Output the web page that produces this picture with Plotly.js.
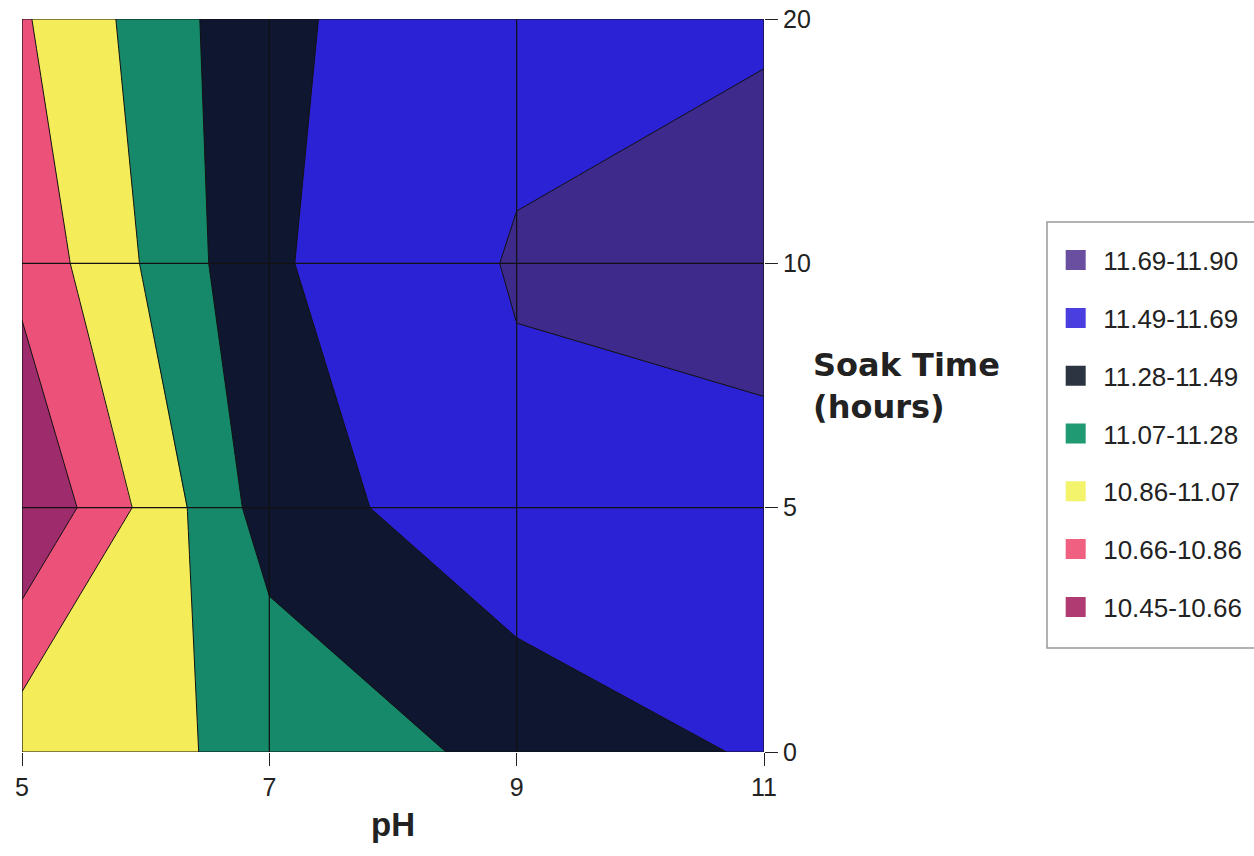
<!DOCTYPE html>
<html><head><meta charset="utf-8">
<script src="https://cdn.plot.ly/plotly-3.0.1.min.js"></script>
<style>html,body{margin:0;padding:0;background:#fff;}#chart{width:1254px;height:856px;}</style>
</head><body><div id="chart"></div>
<script>
// pH categories (x) and soak time categories (y)
const phValues = [5, 7, 9, 11];
const soakTimeLabels = ['0', '5', '10', '20'];
// response values, one row per soak time, ordered by pH
const z_t0  = [11.00, 11.10, 11.35, 11.51];
const z_t5  = [10.45, 11.38, 11.64, 11.52];
const z_t10 = [10.72, 11.46, 11.71, 11.90];
const z_t20 = [10.84, 11.45, 11.63, 11.64];
// legend bands, top to bottom
const bandLabels = ['11.69-11.90','11.49-11.69','11.28-11.49','11.07-11.28','10.86-11.07','10.66-10.86','10.45-10.66'];
const bandFill   = ['#3d2a8a','#2b22d6','#0f1630','#16896a','#f4ec58','#ec5279','#9e2c6c'];
const bandLegend = ['#6a4fa0','#4a3ee0','#2b3440','#1f9a72','#f3f36c','#f06080','#b03a72'];
const zMin = 10.45, zMax = 11.90, nBands = 7;

const step = (zMax - zMin) / nBands;
const fillAsc = bandFill.slice().reverse();
const colorscale = [];
for (let k = 0; k < nBands; k++) {
  const lo = k === 0 ? 0 : (k + 0.5) / nBands;
  const hi = k === nBands - 1 ? 1 : (k + 1.5) / nBands;
  colorscale.push([lo, fillAsc[k]], [hi, fillAsc[k]]);
}
const yIdx = soakTimeLabels.map((_, i) => i);

const contour = {
  type: 'contour',
  x: phValues,
  y: yIdx,
  z: [z_t0, z_t5, z_t10, z_t20],
  colorscale: colorscale,
  showscale: false,
  contours: {start: zMin, end: zMin + (nBands - 1) * step + step * 0.5, size: step, coloring: 'fill', showlines: true},
  line: {color: '#111', width: 1, smoothing: 0},
  hoverinfo: 'skip',
  showlegend: false
};

// gridlines at each category, drawn over the fill
const gx = [], gy = [];
const xMin = Math.min(...phValues), xMax = Math.max(...phValues);
phValues.forEach(p => { gx.push(p, p, null); gy.push(yIdx[0], yIdx[yIdx.length - 1], null); });
yIdx.forEach(i => { gx.push(xMin, xMax, null); gy.push(i, i, null); });
const grid = {type: 'scatter', mode: 'lines', x: gx, y: gy, line: {color: '#111', width: 1.2},
  hoverinfo: 'skip', showlegend: false};

const legendTraces = bandLabels.map((lab, i) => ({
  type: 'scatter', mode: 'markers', x: [null], y: [null], name: lab,
  legendgroup: 'g' + i,
  marker: {symbol: 'square', size: 16, color: bandLegend[i], line: {color: bandLegend[i], width: 4}}
}));

const font = 'Liberation Sans, Arial, sans-serif';
const layout = {
  width: 1254, height: 856,
  margin: {l: 22, r: 490, t: 19, b: 104, autoexpand: false},
  paper_bgcolor: '#fff', plot_bgcolor: '#fff',
  font: {family: font, color: '#222'},
  xaxis: {
    range: [xMin, xMax], tickvals: phValues, ticks: 'outside', ticklen: 13, tickcolor: '#222',
    showgrid: false, zeroline: false, showline: false,
    tickfont: {size: 25, color: '#222'},
    title: {text: '<b>pH</b>', font: {size: 33, color: '#222'}, standoff: 12}
  },
  yaxis: {
    side: 'right', range: [yIdx[0], yIdx[yIdx.length - 1]], tickvals: yIdx, ticktext: soakTimeLabels,
    ticks: 'outside', ticklen: 13, tickcolor: '#222',
    showgrid: false, zeroline: false, showline: false,
    tickfont: {size: 25, color: '#222'}
  },
  showlegend: true,
  legend: {
    x: 1.383, y: 0.703, xanchor: 'left', yanchor: 'top',
    borderwidth: 0, bgcolor: 'rgba(0,0,0,0)', itemwidth: 45,
    font: {size: 26, color: '#222'}, tracegroupgap: 21, traceorder: 'grouped'
  },
  shapes: [{
    type: 'rect', xref: 'paper', yref: 'paper', x0: 1.3814, x1: 1.675, y0: 0.1419, y1: 0.7231,
    line: {color: '#999', width: 1.5}, fillcolor: 'rgba(0,0,0,0)', layer: 'below'
  }],
  annotations: [{
    xref: 'paper', yref: 'paper', x: 1.064, y: 0.50, xanchor: 'left', yanchor: 'middle',
    text: '<b>Soak Time<br>(hours)</b>', align: 'left', showarrow: false,
    font: {size: 32, color: '#222', family: 'DejaVu Sans, sans-serif'}
  }]
};

Plotly.newPlot('chart', [contour, grid].concat(legendTraces), layout, {displayModeBar: false, staticPlot: true});
</script>
</body></html>
